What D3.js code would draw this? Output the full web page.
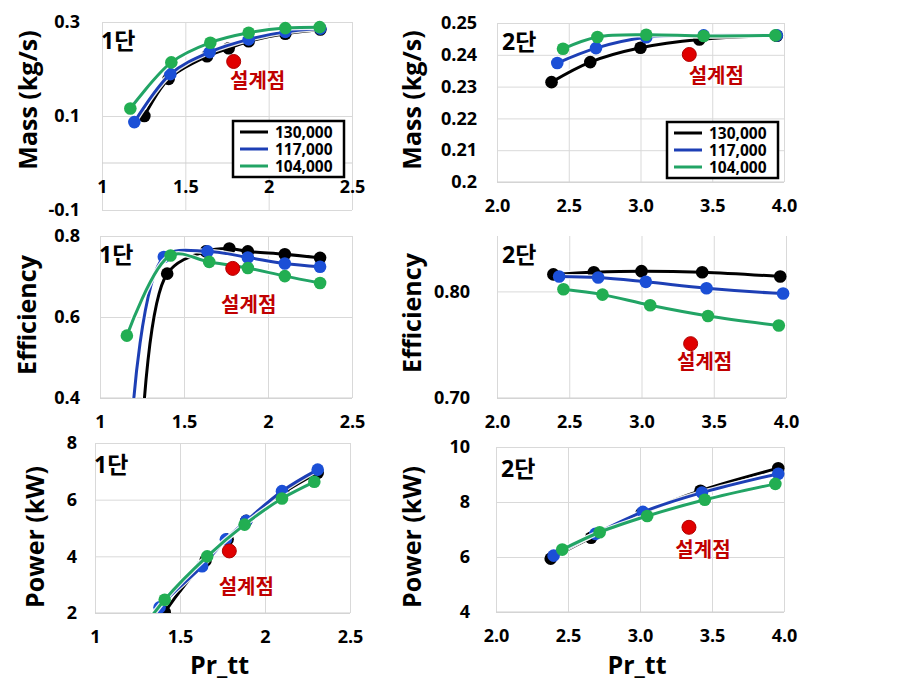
<!DOCTYPE html>
<html><head><meta charset="utf-8">
<script src="https://cdn.jsdelivr.net/npm/d3@7"></script>
<style>
body{margin:0;background:#fff;}
text{font-family:"Open Sans","Noto Sans CJK KR",sans-serif;font-weight:bold;}
</style></head>
<body><svg id="c" width="899" height="693"></svg>
<script>
// ---------- DATA ----------
const seriesNames = ["130,000", "117,000", "104,000"];

// Stage 1 (1단) - mass flow
const mass1X_130 = [1.254, 1.40, 1.63, 1.76, 1.88, 2.10, 2.31];
const mass1Y_130 = [0.100, 0.179, 0.227, 0.244, 0.259, 0.275, 0.284];
const mass1X_117 = [1.194, 1.41, 1.646, 1.88, 2.10, 2.31];
const mass1Y_117 = [0.087, 0.189, 0.236, 0.263, 0.279, 0.286];
const mass1X_104 = [1.17, 1.416, 1.65, 1.88, 2.10, 2.306];
const mass1Y_104 = [0.116, 0.214, 0.256, 0.277, 0.287, 0.289];

// Stage 1 - efficiency
const eff1X_130 = [1.254, 1.40, 1.63, 1.77, 1.88, 2.10, 2.31];
const eff1Y_130 = [0.33, 0.707, 0.762, 0.769, 0.762, 0.755, 0.746];
const eff1X_117 = [1.194, 1.38, 1.64, 1.88, 2.10, 2.31];
const eff1Y_117 = [0.36, 0.748, 0.762, 0.747, 0.732, 0.724];
const eff1X_104 = [1.16, 1.42, 1.65, 1.88, 2.10, 2.31];
const eff1Y_104 = [0.554, 0.752, 0.736, 0.721, 0.701, 0.684];

// Stage 1 - power
const pow1X_130 = [1.254, 1.41, 1.65, 1.78, 1.89, 2.11, 2.31];
const pow1Y_130 = [0.5, 2.03, 3.85, 4.6, 5.25, 6.25, 6.95];
const pow1X_117 = [1.194, 1.38, 1.63, 1.77, 1.89, 2.10, 2.31];
const pow1Y_117 = [0.3, 2.2, 3.65, 4.6, 5.25, 6.3, 7.06];
const pow1X_104 = [1.17, 1.41, 1.66, 1.88, 2.10, 2.29];
const pow1Y_104 = [0.5, 2.47, 4.0, 5.12, 6.04, 6.63];

// Stage 2 (2단) - mass flow
const mass2X_130 = [2.38, 2.65, 3.0, 3.41, 3.95];
const mass2Y_130 = [0.2314, 0.2377, 0.2422, 0.2448, 0.2460];
const mass2X_117 = [2.42, 2.69, 3.04, 3.44, 3.95];
const mass2Y_117 = [0.2374, 0.2421, 0.2455, 0.2461, 0.2461];
const mass2X_104 = [2.46, 2.70, 3.04, 3.44, 3.94];
const mass2Y_104 = [0.2419, 0.2456, 0.2463, 0.2459, 0.2461];

// Stage 2 - efficiency
const eff2X_130 = [2.39, 2.67, 3.0, 3.42, 3.96];
const eff2Y_130 = [0.816, 0.818, 0.819, 0.818, 0.814];
const eff2X_117 = [2.43, 2.70, 3.03, 3.45, 3.98];
const eff2Y_117 = [0.814, 0.813, 0.809, 0.803, 0.798];
const eff2X_104 = [2.46, 2.73, 3.06, 3.46, 3.95];
const eff2Y_104 = [0.802, 0.797, 0.787, 0.777, 0.768];

// Stage 2 - power
const pow2X_130 = [2.38, 2.66, 3.01, 3.42, 3.96];
const pow2Y_130 = [5.94, 6.7, 7.58, 8.41, 9.23];
const pow2X_117 = [2.40, 2.69, 3.02, 3.43, 3.96];
const pow2Y_117 = [6.05, 6.84, 7.64, 8.34, 9.03];
const pow2X_104 = [2.46, 2.72, 3.05, 3.45, 3.94];
const pow2Y_104 = [6.27, 6.9, 7.49, 8.08, 8.66];

// design points (설계점)
const design1X = 1.79, design1Mass = 0.216, design1Eff = 0.72, design1Pow = 4.19;
const design2X = 3.34, design2Mass = 0.2401, design2Eff = 0.751, design2Pow = 7.08;

// ticks
const xTicks1 = [1, 1.5, 2, 2.5];
const xTickLabels1 = ["1", "1.5", "2", "2.5"];
const xTicks2 = [2.0, 2.5, 3.0, 3.5, 4.0];
const xTickLabels2 = ["2.0", "2.5", "3.0", "3.5", "4.0"];
const mass1YTicks = [-0.1, 0.1, 0.3];
const mass1YLabels = ["-0.1", "0.1", "0.3"];
const mass2YTicks = [0.20, 0.21, 0.22, 0.23, 0.24, 0.25];
const mass2YLabels = ["0.2", "0.21", "0.22", "0.23", "0.24", "0.25"];
const eff1YTicks = [0.4, 0.6, 0.8];
const eff1YLabels = ["0.4", "0.6", "0.8"];
const eff2YTicks = [0.70, 0.80];
const eff2YLabels = ["0.70", "0.80"];
const pow1YTicks = [2, 4, 6, 8];
const pow1YLabels = ["2", "4", "6", "8"];
const pow2YTicks = [4, 6, 8, 10];
const pow2YLabels = ["4", "6", "8", "10"];

// ---------- STYLE / LAYOUT ----------
const lineColors = ["#000000", "#1d3fb5", "#22a465"];
const markColors = ["#000000", "#1b4fd6", "#22ae52"];
const svg = d3.select("#c");

const panels = [
  {stage:"1단", title:"Mass (kg/s)", l:102, r:352, t:22, b:210, xd:[1,2.5], yd:[-0.1,0.3],
   xt:xTicks1, xl:xTickLabels1, yt:mass1YTicks, yl:mass1YLabels, xAxisAt:0, yPad:22, titleX:28, titleY:100,
   series:[[mass1X_130,mass1Y_130],[mass1X_117,mass1Y_117],[mass1X_104,mass1Y_104]],
   dX:design1X, dY:design1Mass, dOff:[24,20], legend:[233,121], xTitle:false},
  {stage:"2단", title:"Mass (kg/s)", l:497, r:784, t:23, b:182, xd:[2,4], yd:[0.2,0.25],
   xt:xTicks2, xl:xTickLabels2, yt:mass2YTicks, yl:mass2YLabels, xAxisAt:null, yPad:20, titleX:412, titleY:100,
   series:[[mass2X_130,mass2Y_130],[mass2X_117,mass2Y_117],[mass2X_104,mass2Y_104]],
   dX:design2X, dY:design2Mass, dOff:[27,22], legend:[667,122], xTitle:false},
  {stage:"1단", title:"Efficiency", l:100, r:352, t:236, b:398, xd:[1,2.5], yd:[0.4,0.8],
   xt:xTicks1, xl:xTickLabels1, yt:eff1YTicks, yl:eff1YLabels, xAxisAt:null, yPad:20, titleX:27, titleY:315,
   series:[[eff1X_130,eff1Y_130],[eff1X_117,eff1Y_117],[eff1X_104,eff1Y_104]],
   dX:design1X, dY:design1Eff, dOff:[16,37], legend:null, xTitle:false},
  {stage:"2단", title:"Efficiency", l:497, r:786, t:236, b:398, xd:[2,4], yd:[0.70,0.852],
   xt:xTicks2, xl:xTickLabels2, yt:eff2YTicks, yl:eff2YLabels, xAxisAt:null, yPad:27, titleX:412, titleY:313,
   series:[[eff2X_130,eff2Y_130],[eff2X_117,eff2Y_117],[eff2X_104,eff2Y_104]],
   dX:design2X, dY:design2Eff, dOff:[14,18], legend:null, xTitle:false},
  {stage:"1단", title:"Power  (kW)", l:95, r:350, t:443, b:613, xd:[1,2.5], yd:[2,8],
   xt:xTicks1, xl:xTickLabels1, yt:pow1YTicks, yl:pow1YLabels, xAxisAt:null, yPad:18, titleX:35, titleY:537,
   series:[[pow1X_130,pow1Y_130],[pow1X_117,pow1Y_117],[pow1X_104,pow1Y_104]],
   dX:design1X, dY:design1Pow, dOff:[17,36], legend:null, xTitle:true},
  {stage:"2단", title:"Power  (kW)", l:496, r:784, t:447, b:612, xd:[2,4], yd:[4,10],
   xt:xTicks2, xl:xTickLabels2, yt:pow2YTicks, yl:pow2YLabels, xAxisAt:null, yPad:26, titleX:412, titleY:537,
   series:[[pow2X_130,pow2Y_130],[pow2X_117,pow2Y_117],[pow2X_104,pow2Y_104]],
   dX:design2X, dY:design2Pow, dOff:[14,23], legend:null, xTitle:true}
];

panels.forEach((p, i) => {
  const x = d3.scaleLinear().domain(p.xd).range([p.l, p.r]);
  const y = d3.scaleLinear().domain(p.yd).range([p.b, p.t]);
  const g = svg.append("g");
  const w = p.r - p.l, h = p.b - p.t;

  // gridlines
  const gy = g.append("g").attr("transform", `translate(${p.l},0)`)
    .call(d3.axisLeft(y).tickValues(p.yt).tickSize(-w).tickFormat(""));
  gy.select(".domain").remove();
  gy.selectAll("line").attr("stroke", "#d9d9d9").attr("stroke-width", 1);
  const gx = g.append("g").attr("transform", `translate(0,${p.b})`)
    .call(d3.axisBottom(x).tickValues(p.xt).tickSize(-h).tickFormat(""));
  gx.select(".domain").remove();
  gx.selectAll("line").attr("stroke", "#d9d9d9").attr("stroke-width", 1);

  // horizontal axis line
  const axY = p.xAxisAt === null ? p.b : y(p.xAxisAt);
  g.append("line").attr("x1", p.l).attr("x2", p.r).attr("y1", axY).attr("y2", axY)
    .attr("stroke", "#d0d0d0").attr("stroke-width", 1.2);

  // tick labels
  const ax = g.append("g").attr("transform", `translate(0,${axY})`)
    .call(d3.axisBottom(x).tickValues(p.xt).tickSize(0).tickPadding(17)
      .tickFormat((d, k) => p.xl[k]));
  ax.select(".domain").remove();
  ax.selectAll("text").attr("font-size", 18).attr("fill", "#000")
    .style("font-family", '"Open Sans","Noto Sans CJK KR",sans-serif').style("font-weight", "bold");
  const ayl = g.append("g").attr("transform", `translate(${p.l},0)`)
    .call(d3.axisLeft(y).tickValues(p.yt).tickSize(0).tickPadding(p.yPad)
      .tickFormat((d, k) => p.yl[k]));
  ayl.select(".domain").remove();
  ayl.selectAll("text").attr("font-size", 18).attr("fill", "#000")
    .style("font-family", '"Open Sans","Noto Sans CJK KR",sans-serif').style("font-weight", "bold");

  // y title
  g.append("text").attr("transform", `translate(${p.titleX},${p.titleY}) rotate(-90)`)
    .attr("text-anchor", "middle").attr("dy", "0.35em").attr("font-size", 25)
    .text(p.title);

  if (p.xTitle) {
    g.append("text").attr("x", (p.l + p.r) / 2 - 3).attr("y", 665).attr("dy", "0.35em")
      .attr("text-anchor", "middle").attr("font-size", 25).text("Pr_tt");
  }

  // clip
  const cid = "clip" + i;
  svg.append("clipPath").attr("id", cid).append("rect")
    .attr("x", p.l - 8).attr("y", p.t - 8).attr("width", w + 16).attr("height", p.b - p.t + 8);

  const line = d3.line().x(d => x(d[0])).y(d => y(d[1])).curve(d3.curveCatmullRom.alpha(0.5));
  const plot = g.append("g").attr("clip-path", `url(#${cid})`);
  p.series.forEach((s, k) => {
    const pts = s[0].map((xv, j) => [xv, s[1][j]]);
    plot.append("path").datum(pts).attr("d", line).attr("fill", "none")
      .attr("stroke", "#ffffff").attr("stroke-width", 5.5).attr("stroke-opacity", 0.9);
    plot.append("path").datum(pts).attr("d", line).attr("fill", "none")
      .attr("stroke", lineColors[k]).attr("stroke-width", 3);
    plot.selectAll(null).data(pts).enter().append("circle")
      .attr("cx", d => x(d[0])).attr("cy", d => y(d[1])).attr("r", 6.3)
      .attr("fill", markColors[k]);
  });

  // design point
  const dx = x(p.dX), dy = y(p.dY);
  g.append("circle").attr("cx", dx).attr("cy", dy).attr("r", 7)
    .attr("fill", "#e00000").attr("stroke", "#b00000").attr("stroke-width", 1);
  g.append("text").attr("x", dx + p.dOff[0]).attr("y", dy + p.dOff[1]).attr("dy", "0.35em")
    .attr("text-anchor", "middle").attr("font-size", 20).attr("fill", "#c00000").text("설계점");

  // stage label
  g.append("text").attr("x", p.l + (i % 2 ? 5 : -1)).attr("y", p.t + 27 + (i >= 4 ? 3 : 0))
    .attr("font-size", 23).attr("fill", "#000").text(p.stage);

  // legend
  if (p.legend) {
    const [lx, ly] = p.legend;
    const lg = g.append("g");
    lg.append("rect").attr("x", lx).attr("y", ly).attr("width", 111).attr("height", 56)
      .attr("fill", "#fff").attr("stroke", "#000").attr("stroke-width", 2.5);
    seriesNames.forEach((nm, k) => {
      const yy = ly + 11 + k * 17;
      lg.append("line").attr("x1", lx + 7).attr("x2", lx + 35).attr("y1", yy).attr("y2", yy)
        .attr("stroke", lineColors[k]).attr("stroke-width", 3);
      lg.append("text").attr("x", lx + 42).attr("y", yy).attr("dy", "0.36em")
        .attr("font-size", 15.5).text(nm);
    });
  }
});
</script></body></html>
